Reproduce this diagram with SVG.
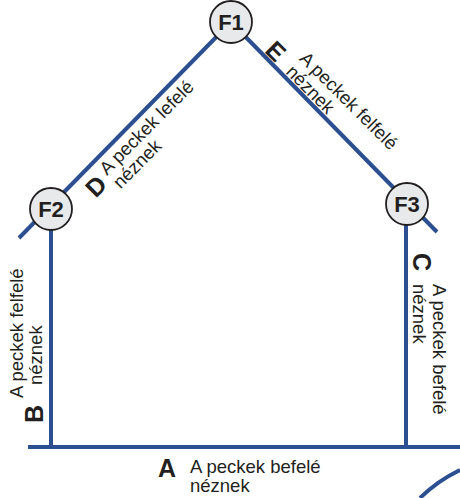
<svg xmlns="http://www.w3.org/2000/svg" width="460" height="498" viewBox="0 0 460 498">
<style>
.ln{stroke:#2c4f91;stroke-width:4;fill:none}
.nd circle{fill:#e8e9eb;stroke:#231f20;stroke-width:1.8}
.nd text{font-family:"Liberation Sans",Arial,sans-serif;font-weight:bold;font-size:22px;fill:#231f20;text-anchor:middle}
.lt{font-family:"Liberation Sans",Arial,sans-serif;font-size:18.5px;fill:#231f20}
.big{font-weight:bold;font-size:25px}
</style>
<rect width="460" height="498" fill="#fff"/>
<g id="connectors">
<line class="ln" x1="19" y1="238" x2="231" y2="22"/>
<line class="ln" x1="231" y1="22" x2="437" y2="232"/>
<line class="ln" x1="51" y1="209" x2="51" y2="447"/>
<line class="ln" x1="406" y1="204" x2="406" y2="447"/>
<line class="ln" x1="28" y1="447" x2="460" y2="447"/>
<path class="ln" d="M420 498 A150 150 0 0 1 460 470"/>
</g>
<g id="F1" class="nd"><circle cx="231" cy="22" r="21"/><text x="231" y="30">F1</text></g>
<g id="F2" class="nd"><circle cx="51" cy="209" r="21"/><text x="51" y="217">F2</text></g>
<g id="F3" class="nd"><circle cx="407" cy="204" r="21"/><text x="407" y="212">F3</text></g>
<g id="label-A" class="lt">
<text class="big" x="158" y="477">A</text>
<text x="190" y="473">A peckek befelé</text>
<text x="190" y="492">néznek</text>
</g>
<g id="label-B" class="lt" transform="translate(43,423) rotate(-90)">
<text class="big" x="0" y="0">B</text>
<text x="25" y="-20">A peckek felfelé</text>
<text x="38" y="-1">néznek</text>
</g>
<g id="label-C" class="lt" transform="translate(413,253) rotate(90)">
<text class="big" x="0" y="0">C</text>
<text x="31" y="-20">A peckek befelé</text>
<text x="31" y="0">néznek</text>
</g>
<g id="label-D" class="lt" transform="translate(107,176) rotate(-45)">
<text class="big" x="-24" y="8">D</text>
<text x="0" y="0">A peckek lefelé</text>
<text x="0" y="19">néznek</text>
</g>
<g id="label-E" class="lt" transform="translate(298.4,59.4) rotate(45)">
<text class="big" x="-30" y="19">E</text>
<text x="0" y="0">A peckek felfelé</text>
<text x="0" y="19">néznek</text>
</g>
</svg>
